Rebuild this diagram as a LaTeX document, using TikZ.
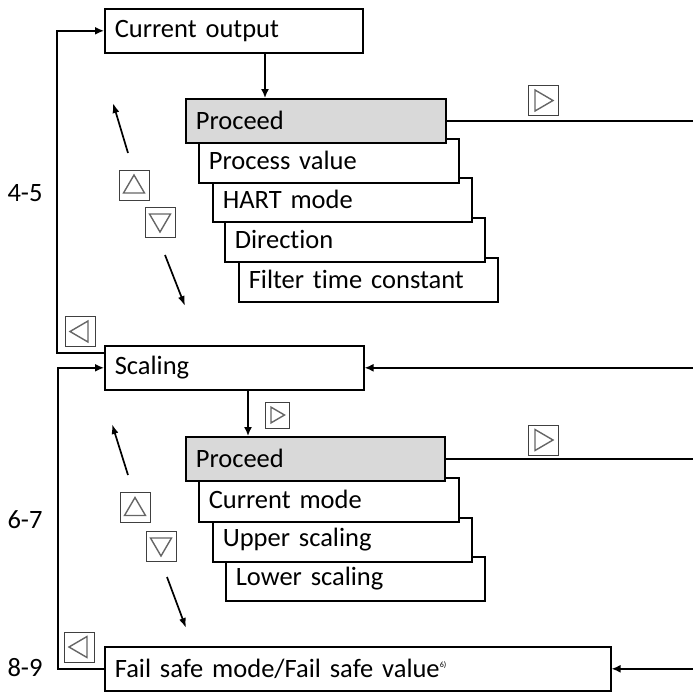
\documentclass[tikz,border=0pt]{standalone}
\usepackage{fontspec}
\setmainfont{Carlito}[Ligatures=NoCommon]
\usetikzlibrary{arrows.meta,calc}
\definecolor{boxgray}{RGB}{217,217,217}
\newcommand{\diagfont}{\fontsize{26.5}{30}\selectfont}
\begin{document}
\begin{tikzpicture}[x=1pt,y=-1pt,
  box/.style={draw, line width=1.6pt, fill=white, anchor=north west, minimum height=44pt,
              inner xsep=10pt, inner ysep=0pt, text width=#1, align=left, font=\diagfont},
  gbox/.style={box=#1, fill=boxgray},
  conn/.style={line width=1.6pt},
  arr/.style={conn,-{Latex[length=9pt,width=8pt]}},
  nav/.style={line width=1.7pt,-{Latex[length=10pt,width=7pt]}},
  btn/.style={draw=black!75, line width=0.9pt, minimum width=30pt, minimum height=30pt, inner sep=0pt},
  sbtn/.style={btn, minimum width=24pt, minimum height=26pt},
  tri/.style={draw=black!60, line width=1.4pt, line join=miter},
  lbl/.style={font=\diagfont, inner sep=0pt},
  trir/.pic={\draw[tri] (-8,-10.5) -- (-8,10.5) -- (10,0) -- cycle;},
  tril/.pic={\draw[tri] (8,-10.5) -- (8,10.5) -- (-10,0) -- cycle;},
  triu/.pic={\draw[tri] (-10.5,8) -- (10.5,8) -- (0,-10) -- cycle;},
  trid/.pic={\draw[tri] (-10.5,-8) -- (10.5,-8) -- (0,10) -- cycle;}
]
\useasboundingbox (0,0) rectangle (693,691);
\coordinate (re) at (693,0);

% --- first group
\node[box=238pt] (co) at (104,8) {Current output};
\node[box=239pt] (ft) at (238,257) {Filter time constant};
\node[box=240pt] (di) at (224,217) {Direction};
\node[box=239pt] (hm) at (212,177) {HART mode};
\node[box=240pt] (pv) at (198,138) {Process value};
\node[gbox=240pt] (pa) at (185,98) {Proceed};

% --- second group
\node[box=239pt] (sc) at (104,345) {Scaling};
\node[box=239pt] (ls) at (225,556) {Lower scaling};
\node[box=239pt] (us) at (212,517) {Upper scaling};
\node[box=240pt] (cm) at (198,477) {Current mode};
\node[gbox=239pt] (pb) at (185,436) {Proceed};

% --- fail safe
\node[box=486pt] (fs) at (104,646) {Fail safe mode/Fail safe value\raisebox{10pt}{\fontsize{8}{9}\selectfont 6)}};

% --- labels
\node[lbl] (l45) at (25,193) {4-5};
\node[lbl] (l67) at (25,520) {6-7};
\node[lbl] (l89) at (25,668) {8-9};

% --- buttons
\node[btn] (b1) at (543,100.5) {};
\node[btn] (b2) at (134,185) {};
\node[btn] (b3) at (160,222) {};
\node[btn] (b4) at (80,331.5) {};
\node[sbtn] (b5) at (277,415) {};
\node[btn] (b6) at (543,440) {};
\node[btn] (b7) at (135,507.5) {};
\node[btn] (b8) at (161,546) {};
\node[btn] (b9) at (79,647) {};
\pic at (b1) {trir};
\pic at (b2) {triu};
\pic at (b3) {trid};
\pic at (b4) {tril};
\pic[scale=0.75] at (b5) {trir};
\pic at (b6) {trir};
\pic at (b7) {triu};
\pic at (b8) {trid};
\pic at (b9) {tril};

% --- connectors
\draw[arr] ($(co.south west)+(161,0)$) coordinate (a1) -- (a1 |- pa.north);
\draw[arr] ($(sc.south west)+(144,0)$) coordinate (a2) -- (a2 |- pb.north);
\draw[conn] (pa.east) -- (pa.east -| re);
\draw[conn] (pb.east) -- (pb.east -| re);
\draw[arr] (sc.east -| re) -- (sc.east);
\draw[arr] (fs.east -| re) -- (fs.east);
\draw[arr] ($(sc.north west)+(0,8)$) -| ($(co.west)+(-47,0)$) -- (co.west);
\draw[arr] (fs.west) -| ($(sc.west)+(-46,0)$) -- (sc.west);

% --- navigation arrows
\coordinate (u1s) at (128,153); \coordinate (u1e) at (113,103);
\coordinate (d1s) at (165,255); \coordinate (d1e) at (185,306);
\coordinate (u2s) at (128,475); \coordinate (u2e) at (112,424);
\coordinate (d2s) at (167,577); \coordinate (d2e) at (186,628);
\draw[nav] (u1s) -- (u1e);
\draw[nav] (d1s) -- (d1e);
\draw[nav] (u2s) -- (u2e);
\draw[nav] (d2s) -- (d2e);
\end{tikzpicture}
\end{document}
